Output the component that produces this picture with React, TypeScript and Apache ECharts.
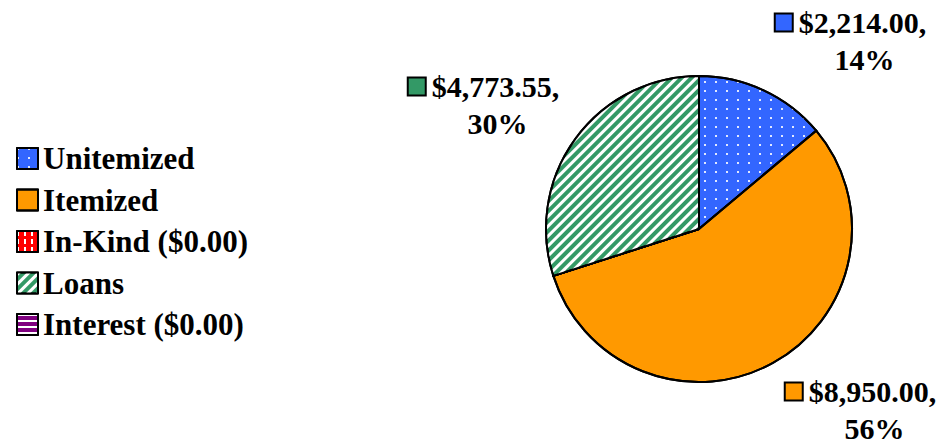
import React, { useEffect, useRef } from "react";
import * as echarts from "echarts";

const categories = ["Unitemized", "Itemized", "In-Kind ($0.00)", "Loans", "Interest ($0.00)"];
const values = [2214.0, 8950.0, 0, 4773.55, 0];
const colors = ["#3366FF", "#FF9900", "#FF0000", "#339966", "#800080"];

const FONT = "'Liberation Serif', 'Times New Roman', serif";

const decals: any[] = [
  { symbol: "rect", symbolSize: 1, color: "rgba(255,255,255,0.85)", dashArrayX: [2, 9], dashArrayY: [2, 7], rotation: 0 },
  { symbol: "none", color: "rgba(0,0,0,0)", dashArrayX: [1, 0], dashArrayY: [1, 0] },
  { symbol: "rect", symbolSize: 1, color: "#ffffff", dashArrayX: [2, 5], dashArrayY: [5, 3], rotation: 0 },
  { symbol: "rect", symbolSize: 1, color: "#ffffff", dashArrayX: [[1, 0]], dashArrayY: [2.5, 4], rotation: -Math.PI / 4 },
  { symbol: "rect", symbolSize: 1, color: "#ffffff", dashArrayX: [[1, 0]], dashArrayY: [2, 4], rotation: 0 },
];

const labelPos: Record<number, [number, number]> = {
  0: [851, 41],
  1: [861, 410],
  3: [484, 105],
};

function fmtMoney(v: number) {
  return "$" + v.toLocaleString("en-US", { minimumFractionDigits: 2, maximumFractionDigits: 2 }) + ",";
}

export default function App() {
  const ref = useRef<HTMLDivElement>(null);
  useEffect(() => {
    if (!ref.current) return;
    const chart = echarts.init(ref.current, undefined, { renderer: "svg" });
    const rich: any = {
      v: { fontFamily: FONT, fontWeight: "bold", fontSize: 30, color: "#000", lineHeight: 37 },
      g: { width: 7 },
      sp: { width: 27 },
    };
    colors.forEach((c, i) => {
      rich["icon" + i] = { width: 16, height: 16, backgroundColor: c, borderColor: "#000", borderWidth: 2 };
    });
    const option: any = {
      animation: false,
      legend: {
        orient: "vertical",
        left: 11,
        top: 138,
        itemWidth: 21,
        itemHeight: 21,
        itemGap: 10.5,
        icon: "rect",
        selectedMode: false,
        data: categories,
        textStyle: { fontFamily: FONT, fontWeight: "bold", fontSize: 31, color: "#000", padding: [0, 0, 0, 0] },
        itemStyle: { borderColor: "#000", borderWidth: 2 },
      },
      series: [
        {
          type: "pie",
          center: [699, 229],
          radius: 153,
          startAngle: 90,
          clockwise: true,
          avoidLabelOverlap: false,
          emphasis: { disabled: true },
          itemStyle: { borderColor: "#000", borderWidth: 2 },
          labelLine: { show: false },
          label: {
            show: true,
            position: "outside",
            align: "center",
            formatter: (p: any) =>
              `{icon${p.dataIndex}|}{g|}{v|${fmtMoney(p.value)}}\n{sp|}{v|${Math.round(p.percent)}%}`,
            rich,
          },
          labelLayout: (params: any) => {
            const pos = labelPos[params.dataIndex];
            if (!pos) return {};
            return { x: pos[0], y: pos[1], align: "center", verticalAlign: "middle", hideOverlap: false };
          },
          data: categories.map((name, i) => ({
            name,
            value: values[i],
            itemStyle: { color: colors[i], decal: decals[i] },
            label: { show: values[i] > 0 },
          })),
        },
      ],
    };
    chart.setOption(option);
    return () => chart.dispose();
  }, []);
  return <div ref={ref} style={{ position: "absolute", left: 0, top: 0, width: 947, height: 448 }} />;
}
